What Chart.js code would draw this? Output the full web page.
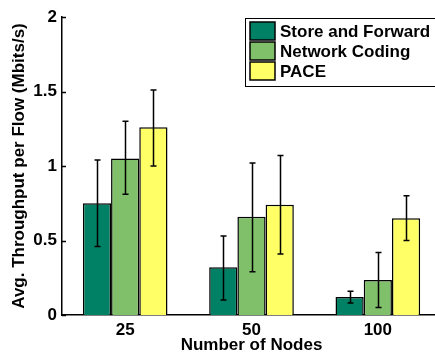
<!DOCTYPE html>
<html>
<head>
<meta charset="utf-8">
<script src="https://cdn.jsdelivr.net/npm/chart.js@4/dist/chart.umd.min.js"></script>
<style>
  html, body { margin: 0; padding: 0; background: #fff; overflow: hidden; }
  #wrap { width: 442px; height: 358px; }
</style>
</head>
<body>
<div id="wrap"><canvas id="chart1"></canvas></div>
<script>
// values
var nodes = ['25', '50', '100'];
var seriesNames = ['Store and Forward', 'Network Coding', 'PACE'];
var storeForward = [0.75, 0.32, 0.12];
var storeForwardLow = [0.46, 0.10, 0.08];
var storeForwardHigh = [1.04, 0.53, 0.16];
var netCoding = [1.05, 0.66, 0.235];
var netCodingLow = [0.81, 0.29, 0.05];
var netCodingHigh = [1.30, 1.02, 0.42];
var pace = [1.26, 0.74, 0.65];
var paceLow = [1.00, 0.41, 0.50];
var paceHigh = [1.51, 1.07, 0.80];
var yTicks = [0, 0.5, 1, 1.5, 2];

var colors = ['rgb(0, 128, 100)', 'rgb(128, 192, 106)', 'rgb(255, 255, 102)'];
var lows = [storeForwardLow, netCodingLow, paceLow];
var highs = [storeForwardHigh, netCodingHigh, paceHigh];
var fontSize = 17;
var boldFont = 'bold ' + fontSize + 'px "Liberation Sans", Arial, sans-serif';

// error bars drawn from the dataset meta + y scale
var errorBars = {
  id: 'errorBars',
  afterDatasetsDraw: function (chart) {
    var ctx = chart.ctx;
    var y = chart.scales.y;
    ctx.save();
    ctx.strokeStyle = '#000';
    ctx.lineWidth = 1.5;
    chart.data.datasets.forEach(function (ds, i) {
      var meta = chart.getDatasetMeta(i);
      meta.data.forEach(function (bar, j) {
        var x = Math.round(bar.x) + 0.5;
        var top = y.getPixelForValue(highs[i][j]);
        var bot = y.getPixelForValue(lows[i][j]);
        ctx.beginPath();
        ctx.moveTo(x, top); ctx.lineTo(x, bot);
        ctx.moveTo(x - 3, top); ctx.lineTo(x + 3, top);
        ctx.moveTo(x - 3, bot); ctx.lineTo(x + 3, bot);
        ctx.stroke();
      });
    });
    // small inward ticks on the y axis
    var left = chart.chartArea.left;
    yTicks.forEach(function (v) {
      var py = Math.round(y.getPixelForValue(v)) + 0.5;
      ctx.beginPath();
      ctx.moveTo(left, py); ctx.lineTo(left + 4, py);
      ctx.stroke();
    });
    ctx.restore();
  }
};

// boxed legend in the top right corner
var boxLegend = {
  id: 'boxLegend',
  afterDraw: function (chart) {
    var ctx = chart.ctx;
    ctx.save();
    ctx.fillStyle = '#fff';
    ctx.strokeStyle = '#000';
    ctx.lineWidth = 1;
    ctx.fillRect(245.5, 18.5, 200, 68);
    ctx.strokeRect(245.5, 18.5, 200, 68);
    ctx.font = boldFont;
    ctx.textBaseline = 'middle';
    seriesNames.forEach(function (name, i) {
      var top = 22 + i * 20;
      ctx.fillStyle = colors[i];
      ctx.fillRect(250, top, 25, 18);
      ctx.lineWidth = 1.5;
      ctx.strokeRect(250, top, 25, 18);
      ctx.fillStyle = '#000';
      ctx.fillText(name, 280, top + 10);
    });
    ctx.restore();
  }
};

var axisFont = { family: 'Liberation Sans', size: fontSize, weight: 'bold' };

var config = {
  type: 'bar',
  data: {
    labels: nodes,
    datasets: [
      { label: seriesNames[0], data: storeForward, backgroundColor: colors[0] },
      { label: seriesNames[1], data: netCoding, backgroundColor: colors[1] },
      { label: seriesNames[2], data: pace, backgroundColor: colors[2] }
    ].map(function (ds) {
      ds.borderColor = '#000';
      ds.borderWidth = 1.5;
      ds.barPercentage = 1;
      ds.categoryPercentage = 0.67;
      return ds;
    })
  },
  options: {
    responsive: true,
    maintainAspectRatio: false,
    animation: false,
    layout: { padding: { top: 17, right: 1, left: 0, bottom: 0 } },
    plugins: {
      legend: { display: false },
      tooltip: { enabled: false }
    },
    scales: {
      x: {
        grid: { display: false, drawTicks: false },
        border: { display: true, color: '#000', width: 1.5 },
        ticks: { color: '#000', font: axisFont, padding: 5 },
        title: { display: true, text: 'Number of Nodes', color: '#000',
          font: axisFont, padding: { top: 0, bottom: 2 } },
        afterFit: function (scale) { scale.height = 43; }
      },
      y: {
        min: 0, max: 2,
        grid: { display: false, drawTicks: false },
        border: { display: true, color: '#000', width: 1.5 },
        ticks: { stepSize: 0.5, color: '#000', padding: 5, font: axisFont,
          callback: function (v) { return String(v); } },
        title: { display: true, text: 'Avg. Throughput per Flow (Mbits/s)', color: '#000',
          font: axisFont, padding: { top: 9, bottom: 0 } },
        afterFit: function (scale) { scale.width = 62; }
      }
    }
  },
  plugins: [errorBars, boxLegend]
};

var ctx = document.getElementById('chart1').getContext('2d');
window.chart1 = new Chart(ctx, config);
</script>
</body>
</html>
